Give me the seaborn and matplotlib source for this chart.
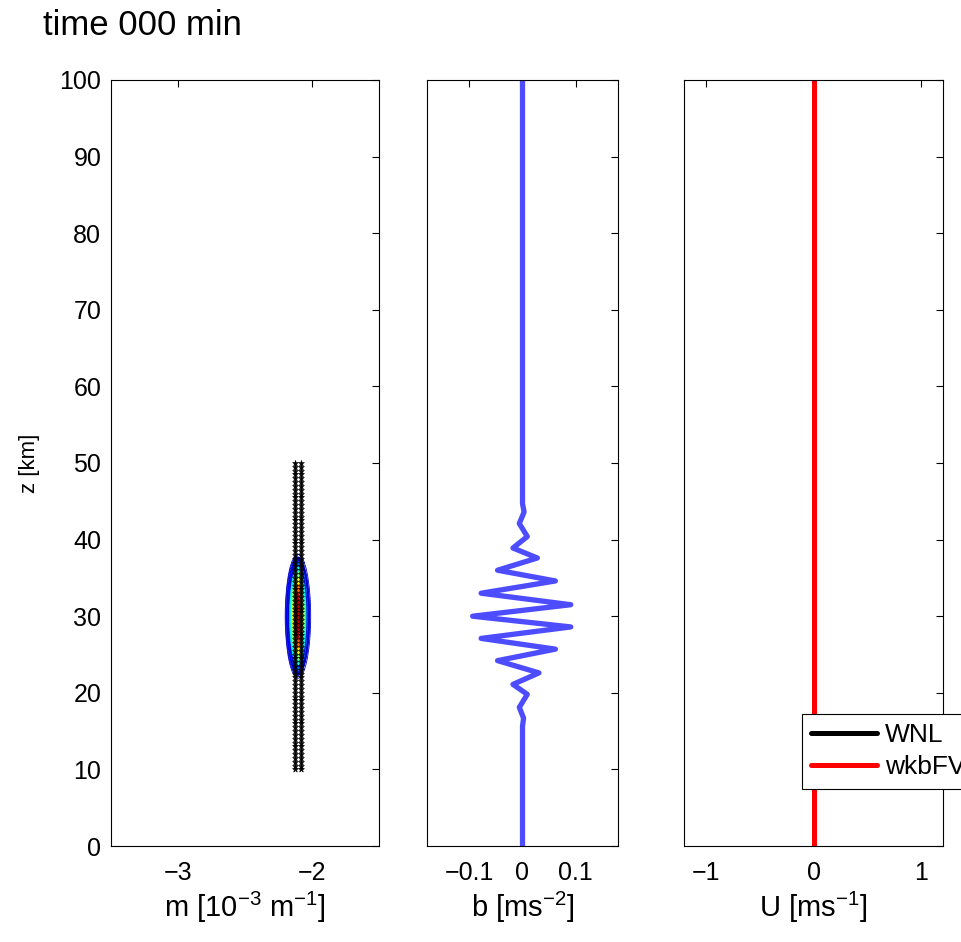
import numpy as np
import matplotlib
matplotlib.use('Agg')
import matplotlib.pyplot as plt
from matplotlib.patches import Ellipse
import seaborn as sns

# perfil de flotabilidad b(z), extremos
b_z = [100, 44.7, 43.6, 42.1, 40.4, 38.9, 37.6, 36.0, 34.6, 33.0, 31.5, 30.0,
       28.6, 27.1, 25.7, 24.2, 22.6, 21.1, 19.8, 18.1, 16.7, 15.6, 0]
b_vals = [0, 0, 0.003, -0.006, 0.009, -0.018, 0.028, -0.047, 0.062, -0.078, 0.091, -0.094,
          0.091, -0.078, 0.062, -0.047, 0.031, -0.018, 0.009, -0.006, 0.002, 0, 0]

# viento medio U(z)
U_z = [0, 100]
U_wnl = [0, 0]
U_wkb = [0, 0]

# rayos: dos columnas de puntos en m
ray_m = [-2.128, -2.082]
ray_z_ini = 10
ray_z_fin = 50
ray_dz = 0.5

# manchas rellenas (de fuera hacia dentro), centro en (m, z)
blob_m = -2.105
blob_z = 30
fill_hw = [0.090, 0.076, 0.064, 0.052, 0.042, 0.030, 0.016]
fill_hh = [7.8, 7.2, 6.5, 5.8, 5.0, 4.2, 3.2]
fill_lvl = [0.12, 0.22, 0.36, 0.5, 0.65, 0.8, 0.95]

# lineas de contorno
line_dm = [0.0, -0.006, 0.008, -0.002]
line_hw = [0.095, 0.085, 0.080, 0.070]
line_hh = [8.1, 7.7, 7.3, 6.6]

sns.set_style('white')
plt.rcParams['font.family'] = ['Liberation Sans', 'DejaVu Sans']
plt.rcParams['mathtext.fontset'] = 'custom'
plt.rcParams['mathtext.rm'] = 'Liberation Sans'
plt.rcParams['mathtext.it'] = 'Liberation Sans'
plt.rcParams['text.color'] = 'black'
plt.rcParams['axes.labelcolor'] = 'black'

fig = plt.figure(figsize=(9.61, 9.42), dpi=100)
bottom = 0.1019
height = 0.8132
ax1 = fig.add_axes([0.1155, bottom, 0.2789, height])
ax2 = fig.add_axes([0.4443, bottom, 0.1988, height])
ax3 = fig.add_axes([0.7118, bottom, 0.2695, height])

# panel 1: numero de onda vertical m
jet = plt.cm.jet
for hw, hh, lv in zip(fill_hw, fill_hh, fill_lvl):
    ax1.add_patch(Ellipse((blob_m, blob_z), 2 * hw, 2 * hh, facecolor=jet(lv),
                          edgecolor='none', zorder=2))
for dm, hw, hh in zip(line_dm, line_hw, line_hh):
    ax1.add_patch(Ellipse((blob_m + dm, blob_z), 2 * hw, 2 * hh, facecolor='none',
                          edgecolor='#0000c0', lw=0.6, zorder=3))

ray_z = np.arange(ray_z_ini, ray_z_fin + ray_dz / 2, ray_dz)
for mm in ray_m:
    sns.scatterplot(x=np.full(len(ray_z), mm), y=ray_z, ax=ax1, marker='*', s=20,
                    color='black', edgecolor='black', linewidth=0.4, zorder=4)
ax1.set_xlim(-3.5, -1.5)
ax1.set_xticks([-3, -2])
ax1.set_xticklabels(['\u22123', '\u22122'])
ax1.set_xlabel('m [10$^{-3}$ m$^{-1}$]', fontsize=21, labelpad=3)
ax1.set_ylabel('z [km]', fontsize=16, labelpad=14)

# panel 2: flotabilidad b
sns.lineplot(x=b_vals, y=b_z, ax=ax2, sort=False, estimator=None, color='#4d4dff', lw=3.8)
ax2.lines[-1].set_solid_joinstyle('round')
ax2.set_xlim(-0.18, 0.18)
ax2.set_xticks([-0.1, 0, 0.1])
ax2.set_xticklabels(['\u22120.1', '0', '0.1'])
ax2.set_xlabel('b [ms$^{-2}$]', fontsize=21, labelpad=3)

# panel 3: viento medio U
sns.lineplot(x=U_wnl, y=U_z, ax=ax3, sort=False, estimator=None, color='black', lw=3.6, label='WNL')
sns.lineplot(x=U_wkb, y=U_z, ax=ax3, sort=False, estimator=None, color='#ff0000', lw=3.6, label='wkbFV')
ax3.set_xlim(-1.2, 1.2)
ax3.set_xticks([-1, 0, 1])
ax3.set_xticklabels(['\u22121', '0', '1'])
ax3.set_xlabel('U [ms$^{-1}$]', fontsize=21, labelpad=3)
leg = ax3.legend(loc='upper left', bbox_to_anchor=(0.456, 0.172), borderaxespad=0,
                 fontsize=19, handlelength=2.5, handletextpad=0.3, labelspacing=0.3,
                 fancybox=False, framealpha=1, edgecolor='black', borderpad=0.35)
leg.get_frame().set_linewidth(0.8)

for ax in (ax1, ax2, ax3):
    ax.set_ylim(0, 100)
    ax.set_yticks(range(0, 101, 10))
    ax.tick_params(direction='in', top=True, right=True, length=5, width=0.8,
                   labelsize=18, colors='black')
    ax.tick_params(axis='x', pad=11)
    ax.tick_params(axis='y', pad=7)
    for sp in ax.spines.values():
        sp.set_linewidth(0.8)
        sp.set_color('black')
ax2.tick_params(labelleft=False)
ax3.tick_params(labelleft=False)
ax2.set_ylabel('')
ax3.set_ylabel('')

fig.text(0.045, 0.963, 'time 000 min', fontsize=25, va='baseline', ha='left')

fig.savefig('out.png', dpi=100)
